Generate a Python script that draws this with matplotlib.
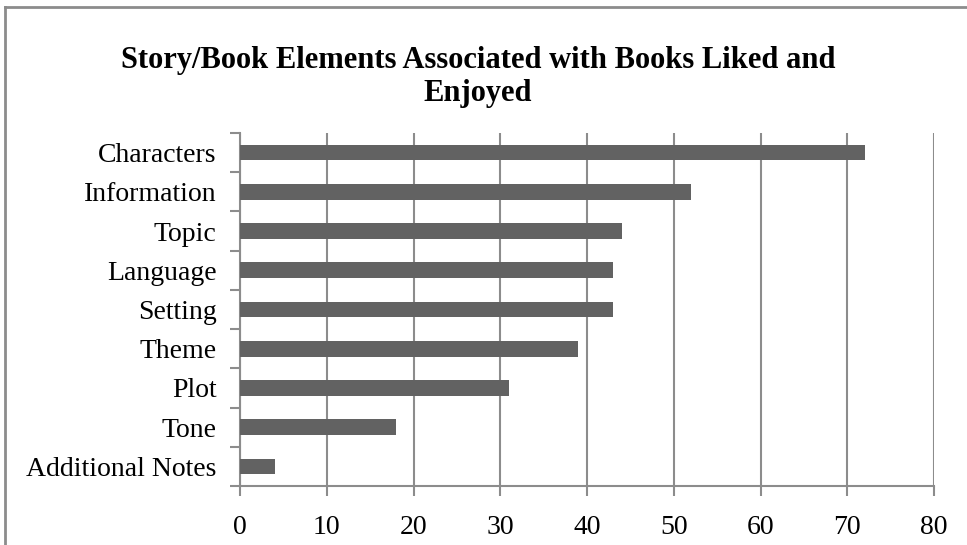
import matplotlib.pyplot as plt
from matplotlib.lines import Line2D

# Counts of story/book elements mentioned for liked books
categories = ['Characters', 'Information', 'Topic', 'Language', 'Setting',
              'Theme', 'Plot', 'Tone', 'Additional Notes']
counts = [72, 52, 44, 43, 43, 39, 31, 18, 4]
xticks = [0, 10, 20, 30, 40, 50, 60, 70, 80]

bar_color = '#626262'
grid_color = '#8c8c8c'
serif = ['Liberation Serif', 'DejaVu Serif']

W, H = 967, 545
fig = plt.figure(figsize=(W / 100, H / 100), dpi=100)
ax = fig.add_axes([240 / W, 1 - 486 / H, (934 - 240) / W, (486 - 133) / H])

ypos = list(range(len(categories)))[::-1]
ax.barh(ypos, counts, height=0.4, color=bar_color, zorder=3)

ax.set_xlim(0, 80)
ax.set_ylim(-0.5, len(categories) - 0.5)
ax.set_xticks(xticks)
ax.set_xticklabels([str(t) for t in xticks], family=serif, fontsize=20)
ax.set_yticks(ypos)
ax.set_yticklabels(categories, family=serif, fontsize=20)
# ticks sit between categories, labels stay centred on the bars
ax.set_yticks([y + 0.5 for y in range(-1, len(categories))], minor=True)
ax.tick_params(axis='y', which='major', length=0, pad=17)
ax.tick_params(axis='y', which='minor', length=7, width=1.5,
               color=grid_color, direction='out')
ax.tick_params(axis='x', length=7, width=1.5, color=grid_color,
               direction='out', pad=14)

ax.grid(axis='x', color=grid_color, linewidth=1.5, zorder=0)
for side in ('top', 'right'):
    ax.spines[side].set_visible(False)
for side in ('left', 'bottom'):
    ax.spines[side].set_color(grid_color)
    ax.spines[side].set_linewidth(1.5)

fig.text(478 / W, 1 - 77 / H,
         'Story/Book Elements Associated with Books Liked and\nEnjoyed',
         ha='center', va='center', family=serif, fontweight='bold',
         fontsize=22, linespacing=1.22)

# chart frame (left and top edges)
fig.add_artist(Line2D([5 / W, 5 / W], [0, 1 - 7 / H], color=grid_color,
                      linewidth=2, transform=fig.transFigure))
fig.add_artist(Line2D([5 / W, 1], [1 - 7 / H, 1 - 7 / H], color=grid_color,
                      linewidth=2, transform=fig.transFigure))

fig.savefig('out.png', dpi=100)
